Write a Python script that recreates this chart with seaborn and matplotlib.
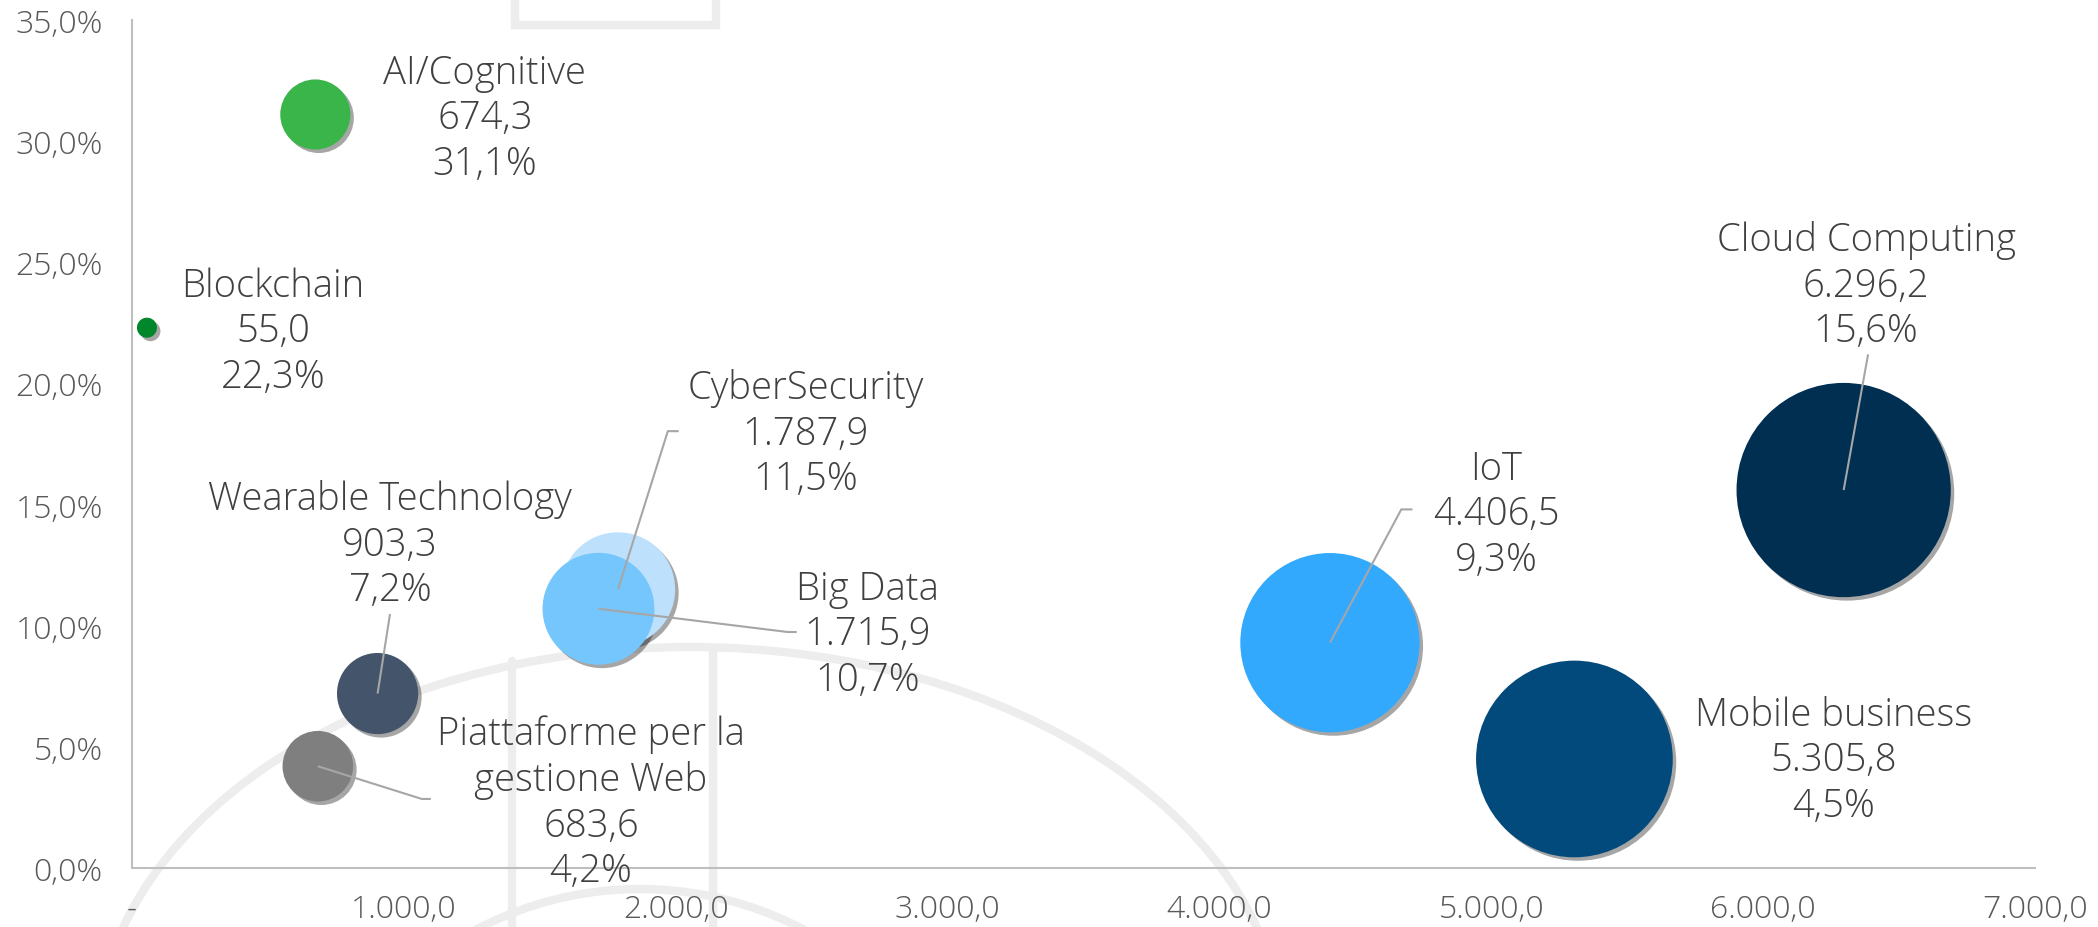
import matplotlib
matplotlib.use("Agg")
import pandas as pd
import matplotlib.pyplot as plt
import matplotlib.patheffects as pe
from matplotlib.patches import Ellipse, Rectangle
from matplotlib.ticker import FuncFormatter, MultipleLocator
import seaborn as sns

# Data (spesa in mln €, tasso di crescita %)
names = ["Blockchain", "AI/Cognitive", "Cloud Computing", "Mobile business", "IoT",
         "CyberSecurity", "Big Data", "Wearable Technology",
         "Piattaforme per la\ngestione Web"]
spend = [55.0, 674.3, 6296.2, 5305.8, 4406.5, 1787.9, 1715.9, 903.3, 683.6]
growth = [22.3, 31.1, 15.6, 4.5, 9.3, 11.5, 10.7, 7.2, 4.2]
colors = ["#00862B", "#3AB54A", "#002F52", "#034A7C", "#32A9FD",
          "#BDE1FD", "#75C6FD", "#44546A", "#7F7F7F"]

# label anchor points (data coords) and leader-line elbows
label_xy = [(518, 22.16), (1298, 30.95), (6379, 24.06), (6261, 4.46), (5018, 14.61),
            (2478, 17.95), (2706, 9.66), (949, 13.37), (1688, 2.72)]
leaders = {
    "Cloud Computing": [(6386, 21.2)],
    "IoT": [(4669, 14.8), (4710, 14.8)],
    "CyberSecurity": [(1971, 18.03), (2011, 18.03)],
    "Big Data": [(2412, 9.74), (2445, 9.74)],
    "Wearable Technology": [(949, 10.48)],
    "Piattaforme per la\ngestione Web": [(1066, 2.85), (1099, 2.85)],
}

df = pd.DataFrame({"name": names, "spend": spend, "growth": growth})


def it_num(v):
    return f"{v:,.1f}".replace(",", "X").replace(".", ",").replace("X", ".")


def it_pct(v):
    return f"{v:.1f}%".replace(".", ",")


sns.set_style("white")
plt.rcParams["font.family"] = ["Open Sans", "DejaVu Sans"]

W, H = 2098, 928
fig = plt.figure(figsize=(W / 100, H / 100), dpi=100)

# faint watermark in the background
bg = fig.add_axes([0, 0, 1, 1], zorder=-1)
bg.set_xlim(0, W)
bg.set_ylim(H, 0)
bg.axis("off")
wm = "#EDEDED"
bg.add_patch(Ellipse((690, 1048), 1188, 800, fill=False, ec=wm, lw=6))
bg.add_patch(Ellipse((640, 1260), 720, 740, fill=False, ec=wm, lw=6))
bg.add_patch(Rectangle((515, -40), 201, 66, fill=False, ec=wm, lw=6))
bg.plot([512, 512], [662, 940], color=wm, lw=6)
bg.plot([713, 713], [650, 940], color=wm, lw=6)

ax = fig.add_axes([132 / W, 1 - 869 / H, (2035 - 132) / W, (869 - 21) / H])
ax.set_facecolor("none")

vmax = max(spend)
sns.scatterplot(data=df, x="spend", y="growth", hue="name",
                palette=dict(zip(names, colors)), size="spend",
                sizes=(0, 3.78 * vmax), size_norm=(0, vmax),
                linewidth=0, alpha=1, legend=False, ax=ax, zorder=2)
ax.collections[0].set_path_effects([
    pe.SimplePatchShadow(offset=(2.5, -2.5), shadow_rgbFace="#000000", alpha=0.35),
    pe.Normal()])

for name, x, y, (lx, ly) in zip(names, spend, growth, label_xy):
    if name in leaders:
        pts = [(x, y)] + leaders[name]
        ax.plot([p[0] for p in pts], [p[1] for p in pts], color="#A6A6A6",
                lw=1.5, zorder=3, solid_capstyle="butt")
    ax.text(lx, ly, f"{name}\n{it_num(x)}\n{it_pct(y)}", ha="center", va="center",
            fontsize=27.5, color="#404040", linespacing=1.24, zorder=4,
            fontweight="light")

ax.set_xlim(0, 7000)
ax.set_ylim(0, 35)
ax.xaxis.set_major_locator(MultipleLocator(1000))
ax.yaxis.set_major_locator(MultipleLocator(5))
ax.xaxis.set_major_formatter(FuncFormatter(lambda v, p: "-" if v == 0 else it_num(v)))
ax.yaxis.set_major_formatter(FuncFormatter(lambda v, p: it_pct(v)))
ax.tick_params(axis="both", length=0, labelsize=23, labelcolor="#595959")
for lbl in ax.get_xticklabels() + ax.get_yticklabels():
    lbl.set_fontweight("light")
ax.tick_params(axis="x", pad=18)
ax.tick_params(axis="y", pad=21)
ax.set_xlabel("")
ax.set_ylabel("")
ax.grid(False)

sns.despine(ax=ax)
for s in ["left", "bottom"]:
    ax.spines[s].set_color("#BFBFBF")
    ax.spines[s].set_linewidth(1.5)

fig.savefig("out.png", dpi=100)
